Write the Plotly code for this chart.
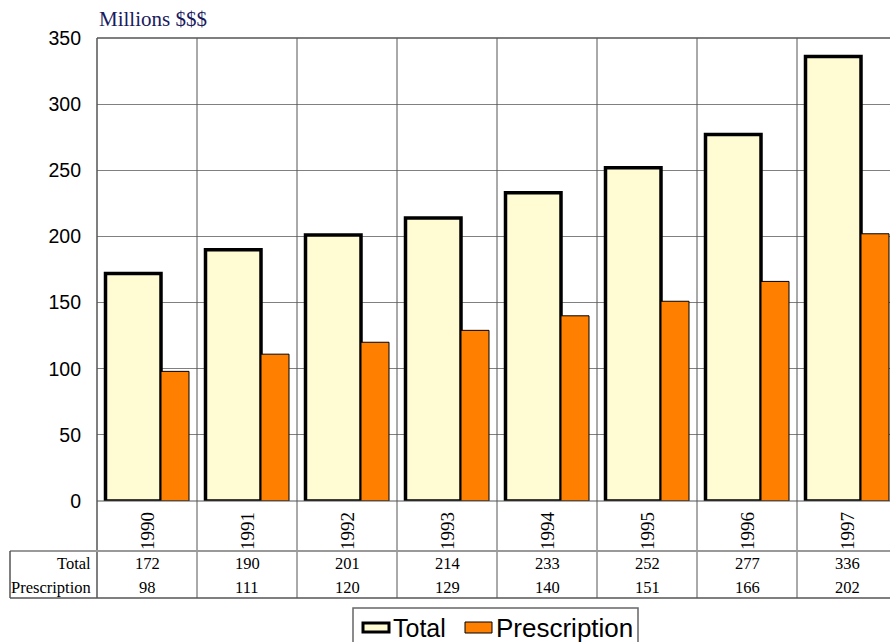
import plotly.graph_objects as go

# Data (millions of dollars)
years = ["1990", "1991", "1992", "1993", "1994", "1995", "1996", "1997"]
total = [172, 190, 201, 214, 233, 252, 277, 336]
prescription = [98, 111, 120, 129, 140, 151, 166, 202]
series_names = ["Total", "Prescription"]
y_ticks = [0, 50, 100, 150, 200, 250, 300, 350]

W, H = 890, 642
L, R, T, B = 97, 0, 38, 141
PW, PH = W - L - R, H - T - B

CREAM = "#FFFCD4"
ORANGE = "#FF7F00"
GRID = "#808080"
BORDER = "#555555"
SERIF = "Liberation Serif, Times New Roman, serif"
SANS = "Liberation Sans, Arial, sans-serif"


def px(xp):
    return (xp - L) / PW


def py(yp):
    return (H - B - yp) / PH


xs = list(range(len(years)))

fig = go.Figure()
fig.add_trace(go.Bar(
    x=xs, y=total, name=series_names[0],
    width=0.555, offset=-0.415,
    marker=dict(color=CREAM, line=dict(color="black", width=3.5)),
    showlegend=False,
))
fig.add_trace(go.Bar(
    x=xs, y=prescription, name=series_names[1],
    width=0.28, offset=0.14,
    marker=dict(color=ORANGE, line=dict(color="black", width=1)),
    showlegend=False,
))

shapes = []
# vertical category separators, running through the data table
for i in range(len(years)):
    shapes.append(dict(type="line", xref="x", yref="paper",
                       x0=i + 0.5, x1=i + 0.5, y0=py(598), y1=1,
                       line=dict(color=BORDER, width=1)))
# left border of plot + table
shapes.append(dict(type="line", xref="paper", yref="paper",
                   x0=0, x1=0, y0=py(598), y1=1,
                   line=dict(color=BORDER, width=1.5)))
# top border of plot
shapes.append(dict(type="line", xref="paper", yref="paper",
                   x0=0, x1=1, y0=1, y1=1,
                   line=dict(color=BORDER, width=1.5)))
# bottom of plot
shapes.append(dict(type="line", xref="paper", yref="paper",
                   x0=0, x1=1, y0=0, y1=0,
                   line=dict(color=BORDER, width=1)))
# data table frame
shapes.append(dict(type="line", xref="paper", yref="paper",
                   x0=px(10), x1=1, y0=py(551), y1=py(551),
                   line=dict(color="#999999", width=2)))
shapes.append(dict(type="line", xref="paper", yref="paper",
                   x0=px(10), x1=1, y0=py(598), y1=py(598),
                   line=dict(color=BORDER, width=1.5)))
shapes.append(dict(type="line", xref="paper", yref="paper",
                   x0=px(10), x1=px(10), y0=py(598), y1=py(551),
                   line=dict(color=BORDER, width=1.5)))

# legend box and swatches
shapes.append(dict(type="rect", xref="paper", yref="paper",
                   x0=px(353), x1=px(638), y0=py(665), y1=py(608),
                   line=dict(color="#666666", width=1.5), fillcolor="white"))
shapes.append(dict(type="rect", xref="paper", yref="paper",
                   x0=px(363), x1=px(389), y0=py(632), y1=py(623),
                   line=dict(color="black", width=3), fillcolor=CREAM))
shapes.append(dict(type="rect", xref="paper", yref="paper",
                   x0=px(465), x1=px(492), y0=py(633), y1=py(622),
                   line=dict(color="black", width=1), fillcolor=ORANGE))

annotations = []
annotations.append(dict(text="Millions $$$", xref="paper", yref="paper",
                        x=0, y=py(19), xanchor="left", yanchor="middle",
                        showarrow=False,
                        font=dict(family=SERIF, size=21, color="#1a1a5e")))
for i, yr in enumerate(years):
    annotations.append(dict(text=yr, xref="x", yref="paper",
                            x=i, y=py(531), textangle=-90,
                            xanchor="center", yanchor="middle",
                            showarrow=False,
                            font=dict(family=SERIF, size=19, color="black")))
    annotations.append(dict(text=str(total[i]), xref="x", yref="paper",
                            x=i, y=py(563), xanchor="center", yanchor="middle",
                            showarrow=False,
                            font=dict(family=SERIF, size=16.5, color="black")))
    annotations.append(dict(text=str(prescription[i]), xref="x", yref="paper",
                            x=i, y=py(587), xanchor="center", yanchor="middle",
                            showarrow=False,
                            font=dict(family=SERIF, size=16.5, color="black")))
for name, yc in zip(series_names, [563, 587]):
    annotations.append(dict(text=name, xref="paper", yref="paper",
                            x=px(93), y=py(yc), xanchor="right", yanchor="middle",
                            showarrow=False,
                            font=dict(family=SERIF, size=16.5, color="black")))
# legend labels
annotations.append(dict(text=series_names[0], xref="paper", yref="paper",
                        x=px(391), y=py(628), xanchor="left", yanchor="middle",
                        showarrow=False,
                        font=dict(family=SANS, size=25, color="black")))
annotations.append(dict(text=series_names[1], xref="paper", yref="paper",
                        x=px(494), y=py(628), xanchor="left", yanchor="middle",
                        showarrow=False,
                        font=dict(family=SANS, size=26, color="black")))

fig.update_layout(
    width=W, height=H,
    margin=dict(l=L, r=R, t=T, b=B, pad=0),
    paper_bgcolor="white", plot_bgcolor="white",
    barmode="overlay",
    xaxis=dict(range=[-0.5, 7.43], showticklabels=False, showgrid=False,
               zeroline=False, showline=False, ticks=""),
    yaxis=dict(range=[0, 350], tickvals=y_ticks, showgrid=True,
               gridcolor=GRID, gridwidth=1, zeroline=False, showline=False,
               ticks="", ticklabelstandoff=15,
               tickfont=dict(family=SANS, size=19.5, color="black")),
    shapes=shapes,
    annotations=annotations,
)

fig.write_html("out.html")
